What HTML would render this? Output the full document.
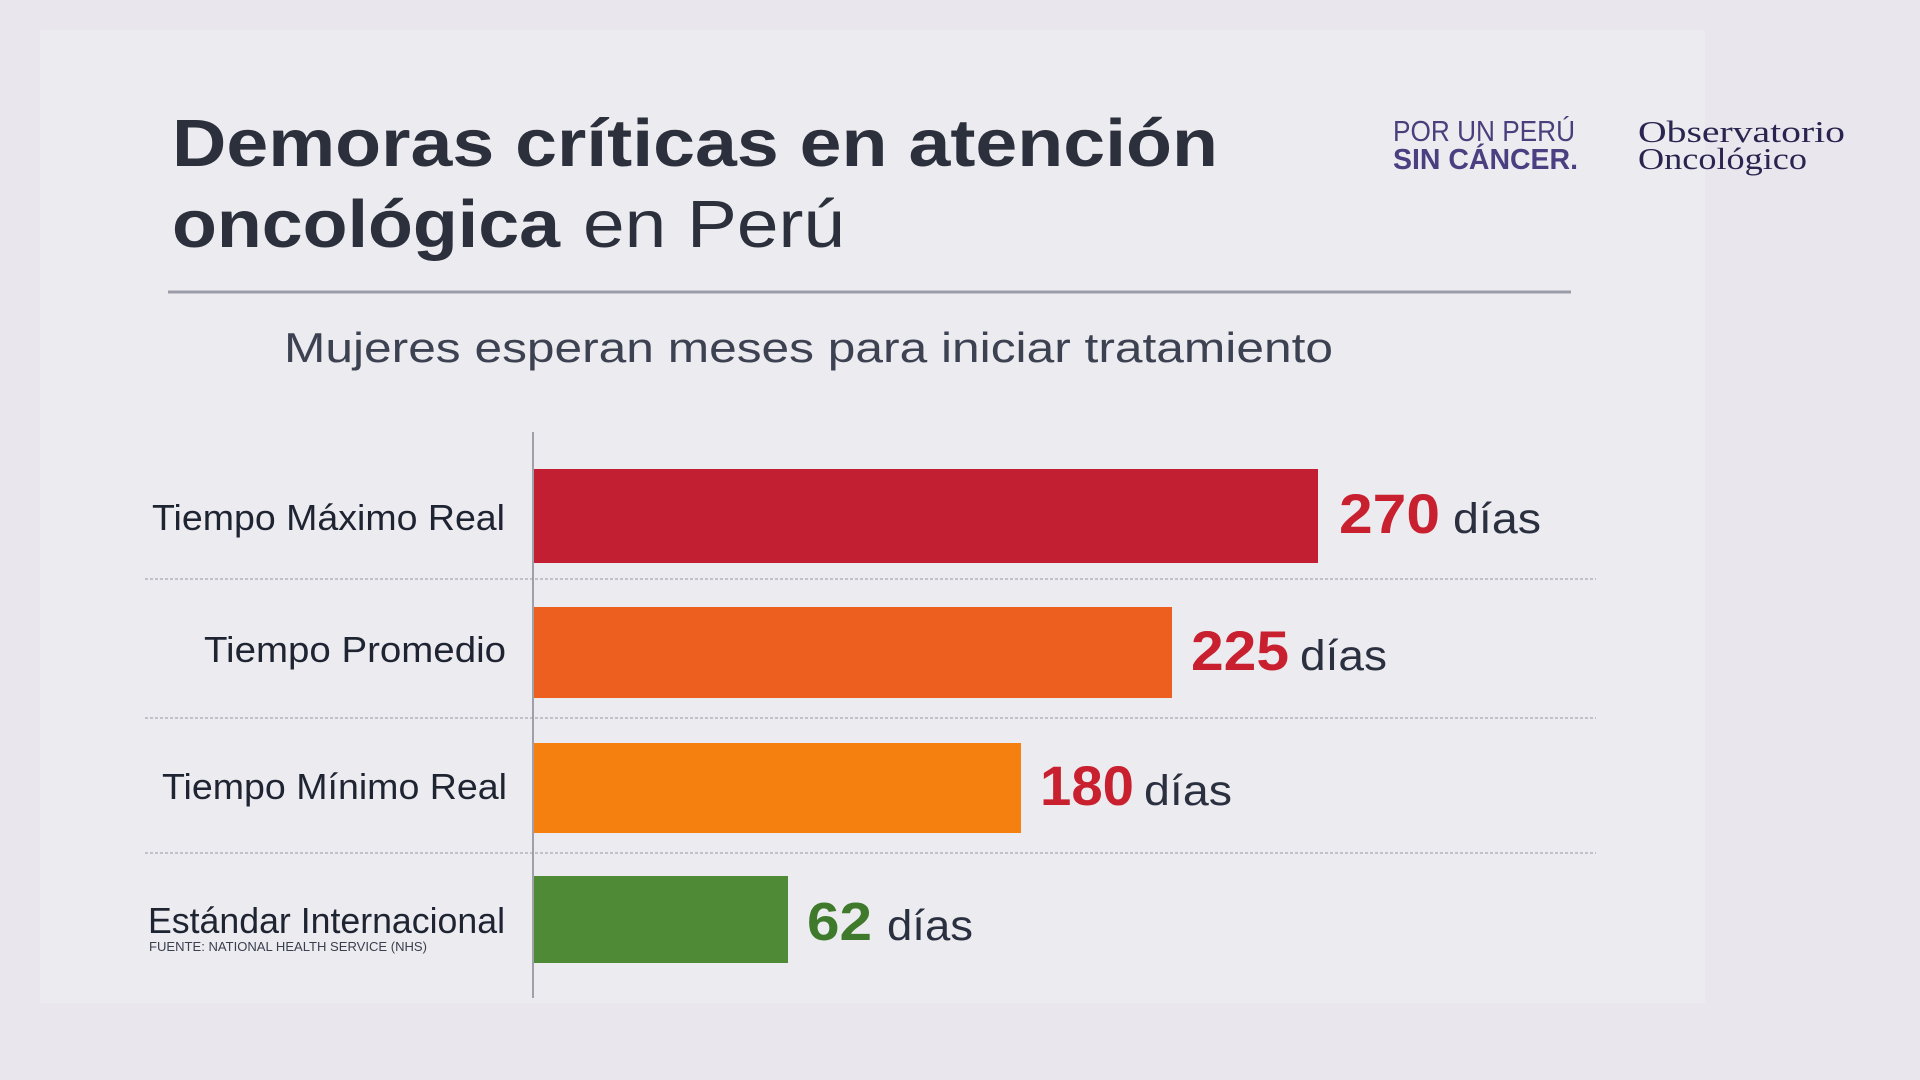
<!DOCTYPE html>
<html>
<head>
<meta charset="utf-8">
<style>
  html,body{margin:0;padding:0;background:#e9e7ed;}
  body{width:1920px;height:1080px;overflow:hidden;}
  svg{display:block;}
  .sans{font-family:"Liberation Sans",Arial,sans-serif;}
  .serif{font-family:"Liberation Serif","Times New Roman",serif;}
</style>
</head>
<body>
<svg width="1920" height="1080" viewBox="0 0 1920 1080" xmlns="http://www.w3.org/2000/svg">
  <rect x="0" y="0" width="1920" height="1080" fill="#e9e7ed"/>
  <rect x="40" y="30" width="1665" height="973" fill="#ecebef"/>

  <!-- Title -->
  <text class="sans" x="172" y="166" font-size="67" font-weight="bold" fill="#2b303c" textLength="1046" lengthAdjust="spacingAndGlyphs">Demoras críticas en atención</text>
  <text class="sans" x="172" y="247" font-size="67" font-weight="bold" fill="#2b303c" textLength="388" lengthAdjust="spacingAndGlyphs">oncológica</text>
  <text class="sans" x="583" y="247" font-size="67" fill="#2b303c" textLength="262" lengthAdjust="spacingAndGlyphs">en Perú</text>

  <!-- Logos -->
  <text class="sans" x="1393" y="141" font-size="29" fill="#4a3f7c" textLength="182" lengthAdjust="spacingAndGlyphs">POR UN PERÚ</text>
  <text class="sans" x="1393" y="169" font-size="29" font-weight="bold" fill="#4a3f80" textLength="185" lengthAdjust="spacingAndGlyphs">SIN CÁNCER.</text>
  <text class="serif" x="1638" y="142" font-size="31" fill="#2a2550" textLength="207" lengthAdjust="spacingAndGlyphs">Observatorio</text>
  <text class="serif" x="1638" y="169" font-size="31" fill="#2a2550" textLength="169" lengthAdjust="spacingAndGlyphs">Oncológico</text>

  <!-- Divider -->
  <line x1="168" y1="292" x2="1571" y2="292" stroke="#9c9ca8" stroke-width="3"/>

  <!-- Subtitle -->
  <text class="sans" x="284" y="362" font-size="42" fill="#3d4252" textLength="1049" lengthAdjust="spacingAndGlyphs">Mujeres esperan meses para iniciar tratamiento</text>

  <!-- Dotted separators -->
  <g stroke="#c2c1ca" stroke-width="2" stroke-dasharray="3 2">
    <line x1="145" y1="579" x2="1596" y2="579"/>
    <line x1="145" y1="718" x2="1596" y2="718"/>
    <line x1="145" y1="853" x2="1596" y2="853"/>
  </g>

  <!-- Bars -->
  <rect x="534" y="469" width="784" height="94" fill="#c21f32"/>
  <rect x="534" y="607" width="638" height="91" fill="#ec5f1f"/>
  <rect x="534" y="743" width="487" height="90" fill="#f5800f"/>
  <rect x="534" y="876" width="254" height="87" fill="#4f8a36"/>

  <!-- Axis -->
  <line x1="533" y1="432" x2="533" y2="998" stroke="#a0a0aa" stroke-width="2"/>

  <!-- Category labels -->
  <text class="sans" x="152" y="530" font-size="36" fill="#1f2433" textLength="353" lengthAdjust="spacingAndGlyphs">Tiempo Máximo Real</text>
  <text class="sans" x="204" y="662" font-size="36" fill="#1f2433" textLength="302" lengthAdjust="spacingAndGlyphs">Tiempo Promedio</text>
  <text class="sans" x="162" y="799" font-size="36" fill="#1f2433" textLength="345" lengthAdjust="spacingAndGlyphs">Tiempo Mínimo Real</text>
  <text class="sans" x="148" y="933" font-size="36" fill="#1f2433" textLength="357" lengthAdjust="spacingAndGlyphs">Estándar Internacional</text>
  <text class="sans" x="149" y="951" font-size="13" fill="#3a3f4f" textLength="278" lengthAdjust="spacingAndGlyphs">FUENTE: NATIONAL HEALTH SERVICE (NHS)</text>

  <!-- Values -->
  <text class="sans" x="1339" y="533" font-size="56" font-weight="bold" fill="#c8202f" textLength="101" lengthAdjust="spacingAndGlyphs">270</text>
  <text class="sans" x="1453" y="533" font-size="43" fill="#2b3040" textLength="88" lengthAdjust="spacingAndGlyphs">días</text>

  <text class="sans" x="1191" y="670" font-size="56" font-weight="bold" fill="#c8202f" textLength="98" lengthAdjust="spacingAndGlyphs">225</text>
  <text class="sans" x="1300" y="670" font-size="43" fill="#2b3040" textLength="87" lengthAdjust="spacingAndGlyphs">días</text>

  <text class="sans" x="1040" y="805" font-size="56" font-weight="bold" fill="#c8202f" textLength="94" lengthAdjust="spacingAndGlyphs">180</text>
  <text class="sans" x="1144" y="805" font-size="43" fill="#2b3040" textLength="88" lengthAdjust="spacingAndGlyphs">días</text>

  <text class="sans" x="807" y="940" font-size="54" font-weight="bold" fill="#3f7a2c" textLength="65" lengthAdjust="spacingAndGlyphs">62</text>
  <text class="sans" x="887" y="940" font-size="43" fill="#2b3040" textLength="86" lengthAdjust="spacingAndGlyphs">días</text>
</svg>
</body>
</html>
